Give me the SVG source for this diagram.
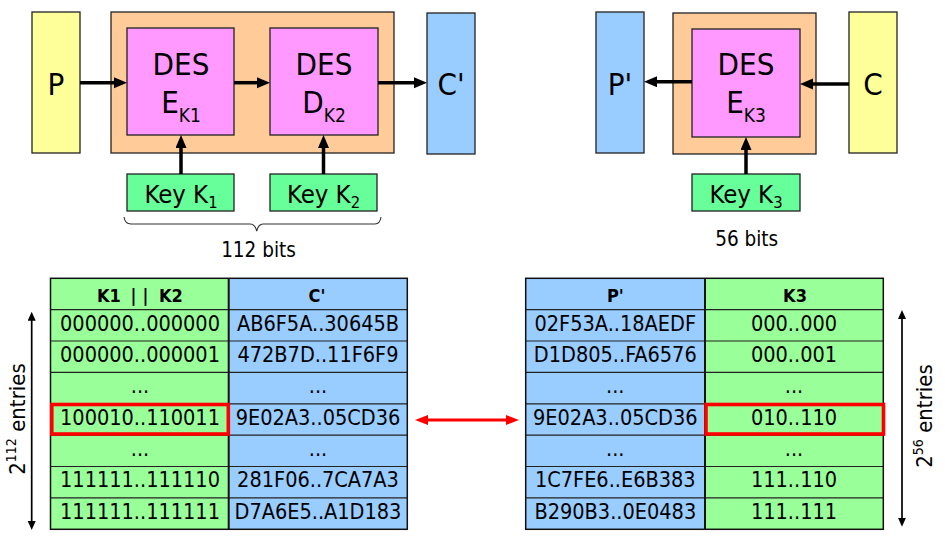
<svg xmlns="http://www.w3.org/2000/svg" width="945" height="539" viewBox="0 0 945 539">
<defs>
<style>
text{font-family:"DejaVu Sans Condensed","DejaVu Sans","Liberation Sans",sans-serif;font-stretch:condensed;fill:#000;text-anchor:middle}
.box{stroke:#222;stroke-width:1.3}
.y{fill:#FFFF99}.o{fill:#FFCC99}.p{fill:#FF99FF}.b{fill:#99CCFF}.k{fill:#66FF99}.g{fill:#99FF99}
.big{font-size:31px}.sub{font-size:19px}
.key{font-size:25.5px}.ksub{font-size:16.5px}
.bits{font-size:20.5px}
.cell{font-size:21.5px}
.hdr{font-size:18px;font-weight:bold}
.arr{stroke:#000;stroke-width:3.5;fill:none;marker-end:url(#ah)}
.thin{stroke:#000;stroke-width:1.7;fill:none;marker-start:url(#th);marker-end:url(#th)}
.red{stroke:#FF0000;stroke-width:2.8;fill:none;marker-start:url(#rh);marker-end:url(#rh)}
.hl{fill:none;stroke:#FF0000;stroke-width:3.6}
.grid{stroke:#222;stroke-width:1.2}
.vdiv{stroke:#111;stroke-width:2}
.frame{fill:none;stroke:#111;stroke-width:1.5}
</style>
<marker id="ah" markerUnits="userSpaceOnUse" markerWidth="14" markerHeight="12" refX="3" refY="5.5" orient="auto"><path d="M0,0 L13,5.5 L0,11 z" fill="#000"/></marker>
<marker id="th" markerUnits="userSpaceOnUse" markerWidth="10" markerHeight="9" refX="2" refY="4" orient="auto-start-reverse"><path d="M0,0 L9,4 L0,8 z" fill="#000"/></marker>
<marker id="rh" markerUnits="userSpaceOnUse" markerWidth="14" markerHeight="11" refX="3" refY="5" orient="auto-start-reverse"><path d="M0,0 L13,5 L0,10 z" fill="#FF0000"/></marker>
</defs>

<g id="left-encrypt">
<g id="node-P"><rect class="box y" x="32" y="12" width="48" height="141"/><text class="big" x="56" y="95">P</text></g>
<g id="node-EDE"><rect class="box o" x="111" y="12" width="283" height="141"/></g>
<g id="node-DES-E1"><rect class="box p" x="127" y="28" width="107" height="107"/><text class="big" x="181" y="74.5">DES</text><text class="big" x="181" y="112.7">E<tspan class="sub" dy="9">K1</tspan></text></g>
<g id="node-DES-D2"><rect class="box p" x="270" y="28" width="108" height="107"/><text class="big" x="324" y="74.5">DES</text><text class="big" x="324" y="112.7">D<tspan class="sub" dy="9">K2</tspan></text></g>
<g id="node-Cprime"><rect class="box b" x="427" y="13" width="48" height="141"/><text class="big" x="451" y="95">C'</text></g>
<g id="node-K1"><rect class="box k" x="127" y="174" width="107" height="37"/><text class="key" x="181" y="203.3">Key K<tspan class="ksub" dy="5">1</tspan></text></g>
<g id="node-K2"><rect class="box k" x="270" y="174" width="107" height="37"/><text class="key" x="323.5" y="203.3">Key K<tspan class="ksub" dy="5">2</tspan></text></g>
<g id="brace"><path d="M124,217 Q125,224 131,224 L250,224 Q255,224 256.7,231 Q258.5,224 263,224 L375,224 Q380,224 381,217" fill="none" stroke="#333" stroke-width="1.1"/><text class="bits" x="258.5" y="256.7">112 bits</text></g>
</g>

<g id="right-decrypt">
<g id="node-Pprime"><rect class="box b" x="596" y="12" width="48" height="141"/><text class="big" x="620" y="95">P'</text></g>
<g id="node-outer3"><rect class="box o" x="673" y="13" width="143" height="141"/></g>
<g id="node-DES-E3"><rect class="box p" x="692" y="29" width="108" height="108"/><text class="big" x="746" y="75">DES</text><text class="big" x="746" y="113">E<tspan class="sub" dy="9">K3</tspan></text></g>
<g id="node-C"><rect class="box y" x="849" y="12" width="48" height="141"/><text class="big" x="873" y="95">C</text></g>
<g id="node-K3"><rect class="box k" x="692" y="174" width="108" height="37"/><text class="key" x="746" y="203.3">Key K<tspan class="ksub" dy="5">3</tspan></text></g>
<text class="bits" x="746.7" y="245.7">56 bits</text>
</g>

<g id="table-left">
<rect class="g" x="50.5" y="278.3" width="178.2" height="251"/>
<rect class="b" x="228.7" y="278.3" width="178.6" height="251"/>
<path class="grid" d="M50.5,309.7H407.3M50.5,341H407.3M50.5,372.4H407.3M50.5,403.8H407.3M50.5,435.2H407.3M50.5,466.5H407.3M50.5,497.9H407.3"/>
<path class="vdiv" d="M228.7,278.3V529.3"/>
<rect class="frame" x="50.5" y="278.3" width="356.8" height="251"/>
<text class="hdr" x="97" y="301.7" style="text-anchor:start">K1 <tspan dx="4">|</tspan><tspan dx="6">|</tspan> <tspan dx="5">K2</tspan></text>
<text class="hdr" x="317" y="301.7">C'</text>
<text class="cell" x="140" y="330.5">000000..000000</text><text class="cell" x="318" y="330.5">AB6F5A..30645B</text>
<text class="cell" x="140" y="361.8">000000..000001</text><text class="cell" x="318" y="361.8">472B7D..11F6F9</text>
<text class="cell" x="140" y="393.2">...</text><text class="cell" x="318" y="393.2">...</text>
<text class="cell" x="140" y="424.6">100010..110011</text><text class="cell" x="318" y="424.6">9E02A3..05CD36</text>
<text class="cell" x="140" y="456">...</text><text class="cell" x="318" y="456">...</text>
<text class="cell" x="140" y="487.3">111111..111110</text><text class="cell" x="318" y="487.3">281F06..7CA7A3</text>
<text class="cell" x="140" y="518.7">111111..111111</text><text class="cell" x="318" y="518.7">D7A6E5..A1D183</text>
<rect class="hl" x="51.8" y="404.5" width="176.5" height="29.5"/>
<text x="24.5" y="419" font-size="22" transform="rotate(-90 24.5 419)">2<tspan font-size="14" dy="-9">112</tspan><tspan dy="9"> entries</tspan></text>
</g>

<g id="table-right">
<rect class="b" x="525.7" y="278.3" width="179.3" height="251"/>
<rect class="g" x="705" y="278.3" width="178.3" height="251"/>
<path class="grid" d="M525.7,309.7H883.3M525.7,341H883.3M525.7,372.4H883.3M525.7,403.8H883.3M525.7,435.2H883.3M525.7,466.5H883.3M525.7,497.9H883.3"/>
<path class="vdiv" d="M705,278.3V529.3"/>
<rect class="frame" x="525.7" y="278.3" width="357.6" height="251"/>
<text class="hdr" x="615.3" y="301.7">P'</text>
<text class="hdr" x="795" y="301.7">K3</text>
<text class="cell" x="615.3" y="330.5">02F53A..18AEDF</text><text class="cell" x="794" y="330.5">000..000</text>
<text class="cell" x="615.3" y="361.8">D1D805..FA6576</text><text class="cell" x="794" y="361.8">000..001</text>
<text class="cell" x="615.3" y="393.2">...</text><text class="cell" x="794" y="393.2">...</text>
<text class="cell" x="615.3" y="424.6">9E02A3..05CD36</text><text class="cell" x="794" y="424.6">010..110</text>
<text class="cell" x="615.3" y="456">...</text><text class="cell" x="794" y="456">...</text>
<text class="cell" x="615.3" y="487.3">1C7FE6..E6B383</text><text class="cell" x="794" y="487.3">111..110</text>
<text class="cell" x="615.3" y="518.7">B290B3..0E0483</text><text class="cell" x="794" y="518.7">111..111</text>
<rect class="hl" x="706" y="404.5" width="177.5" height="29.5"/>
<text x="931.5" y="416" font-size="22" transform="rotate(-90 931.5 416)">2<tspan font-size="14" dy="-9">56</tspan><tspan dy="9"> entries</tspan></text>
</g>

<g id="connectors">
<path class="arr" d="M80,82.7H117"/>
<path class="arr" d="M234,82.7H260"/>
<path class="arr" d="M378,82.7H417"/>
<path class="arr" d="M181,174V145"/>
<path class="arr" d="M323.5,174V145"/>
<path class="arr" d="M692,81.7H654"/>
<path class="arr" d="M849,84H810"/>
<path class="arr" d="M746,174V147"/>
<path class="red" d="M425,420H509"/>
<path class="thin" d="M31.7,318.7V523"/>
<path class="thin" d="M902,317V519.7"/>
</g>
</svg>
